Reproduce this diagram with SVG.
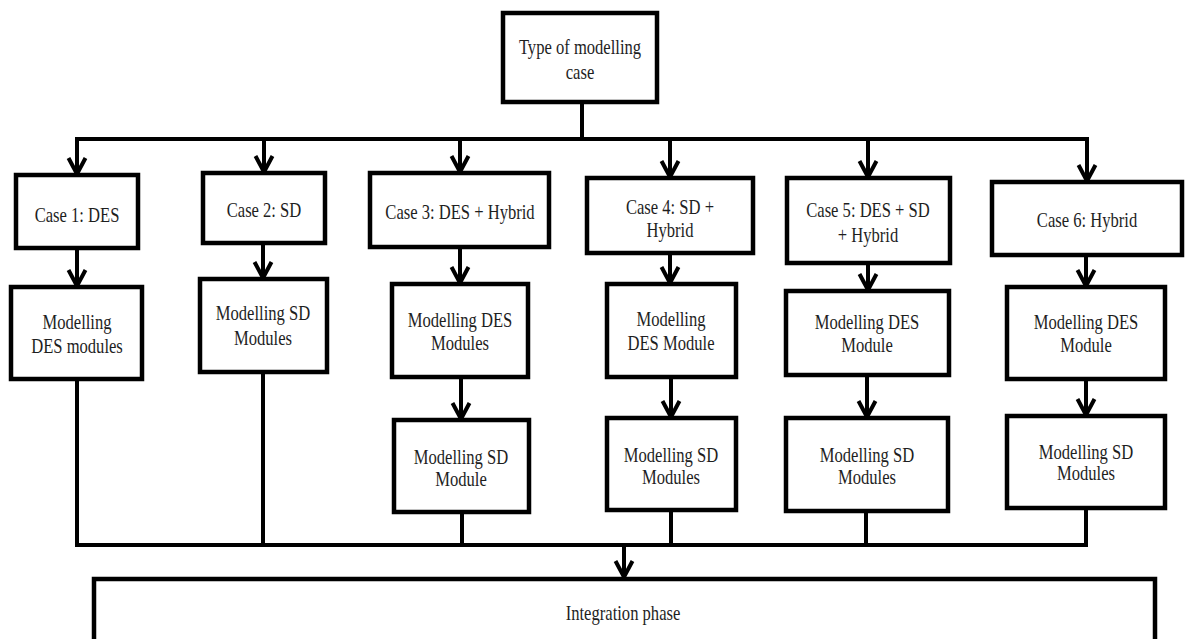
<svg xmlns="http://www.w3.org/2000/svg" width="1187" height="639" viewBox="0 0 1187 639">
<style>
.box{fill:#fff;stroke:#000;stroke-width:4.5}
.ln{fill:none;stroke:#000;stroke-width:4}
.arr{fill:none;stroke:#000;stroke-width:4;marker-end:url(#ah)}
.t{font-family:"Liberation Serif","Times New Roman",serif;font-size:21px;fill:#1e1e1e;text-anchor:middle}
</style>
<defs>
<marker id="ah" markerUnits="userSpaceOnUse" markerWidth="20" markerHeight="20" refX="0" refY="0" orient="auto" overflow="visible">
<path d="M-17,-8.5 L-1,0 L-17,8.5" fill="none" stroke="#000" stroke-width="4"/>
</marker>
</defs>
<rect width="1187" height="639" fill="#fff"/>
<g id="connectors">
<line class="ln" x1="582" y1="102" x2="582" y2="139"/>
<line class="ln" x1="75" y1="139" x2="1089" y2="139"/>
<line class="arr" x1="77" y1="139" x2="77" y2="175"/>
<line class="arr" x1="264" y1="139" x2="264" y2="173"/>
<line class="arr" x1="460" y1="139" x2="460" y2="173"/>
<line class="arr" x1="670" y1="139" x2="670" y2="178"/>
<line class="arr" x1="868" y1="139" x2="868" y2="178"/>
<line class="arr" x1="1087" y1="139" x2="1087" y2="182"/>
<line class="arr" x1="77" y1="248" x2="77" y2="287"/>
<line class="arr" x1="263" y1="243" x2="263" y2="279"/>
<line class="arr" x1="460" y1="247" x2="460" y2="284"/>
<line class="arr" x1="670" y1="253" x2="670" y2="284"/>
<line class="arr" x1="868" y1="263" x2="868" y2="291"/>
<line class="arr" x1="1086" y1="255" x2="1086" y2="287"/>
<line class="arr" x1="461" y1="377" x2="461" y2="420"/>
<line class="arr" x1="671" y1="377" x2="671" y2="418"/>
<line class="arr" x1="867" y1="375" x2="867" y2="418"/>
<line class="arr" x1="1086" y1="379" x2="1086" y2="416"/>
<line class="ln" x1="77" y1="379" x2="77" y2="547"/>
<line class="ln" x1="263" y1="372" x2="263" y2="546"/>
<line class="ln" x1="462" y1="512" x2="462" y2="546"/>
<line class="ln" x1="671" y1="510" x2="671" y2="545"/>
<line class="ln" x1="866" y1="511" x2="866" y2="545"/>
<line class="ln" x1="1086" y1="508" x2="1086" y2="547"/>
<line class="ln" x1="75" y1="545" x2="1088" y2="545"/>
<line class="arr" x1="624" y1="545" x2="624" y2="578"/>
</g>
<g id="n-top"><rect class="box" x="503" y="13" width="154" height="89"/>
<text class="t" transform="translate(580 0) scale(0.79 1)"><tspan x="0" y="54">Type of modelling</tspan><tspan x="0" y="79">case</tspan></text></g>
<g id="n-case1"><rect class="box" x="16" y="175" width="122" height="73"/>
<text class="t" transform="translate(77 0) scale(0.79 1)"><tspan x="0" y="222">Case 1: DES</tspan></text></g>
<g id="n-case2"><rect class="box" x="203" y="173" width="122" height="70"/>
<text class="t" transform="translate(264 0) scale(0.79 1)"><tspan x="0" y="217">Case 2: SD</tspan></text></g>
<g id="n-case3"><rect class="box" x="370" y="173" width="179" height="74"/>
<text class="t" transform="translate(460 0) scale(0.79 1)"><tspan x="0" y="219">Case 3: DES + Hybrid</tspan></text></g>
<g id="n-case4"><rect class="box" x="587" y="178" width="166" height="75"/>
<text class="t" transform="translate(670 0) scale(0.79 1)"><tspan x="0" y="214">Case 4: SD +</tspan><tspan x="0" y="237">Hybrid</tspan></text></g>
<g id="n-case5"><rect class="box" x="787" y="178" width="163" height="85"/>
<text class="t" transform="translate(868 0) scale(0.79 1)"><tspan x="0" y="217">Case 5: DES + SD</tspan><tspan x="0" y="242">+ Hybrid</tspan></text></g>
<g id="n-case6"><rect class="box" x="992" y="182" width="190" height="73"/>
<text class="t" transform="translate(1087 0) scale(0.79 1)"><tspan x="0" y="227">Case 6: Hybrid</tspan></text></g>
<g id="n-m1"><rect class="box" x="11" y="287" width="131" height="92"/>
<text class="t" transform="translate(77 0) scale(0.79 1)"><tspan x="0" y="329">Modelling</tspan><tspan x="0" y="353">DES modules</tspan></text></g>
<g id="n-m2"><rect class="box" x="200" y="279" width="127" height="93"/>
<text class="t" transform="translate(263 0) scale(0.79 1)"><tspan x="0" y="320">Modelling SD</tspan><tspan x="0" y="345">Modules</tspan></text></g>
<g id="n-m3"><rect class="box" x="392" y="284" width="136" height="93"/>
<text class="t" transform="translate(460 0) scale(0.79 1)"><tspan x="0" y="327">Modelling DES</tspan><tspan x="0" y="350">Modules</tspan></text></g>
<g id="n-m3b"><rect class="box" x="394" y="420" width="135" height="92"/>
<text class="t" transform="translate(461 0) scale(0.79 1)"><tspan x="0" y="464">Modelling SD</tspan><tspan x="0" y="486">Module</tspan></text></g>
<g id="n-m4"><rect class="box" x="607" y="284" width="129" height="93"/>
<text class="t" transform="translate(671 0) scale(0.79 1)"><tspan x="0" y="326">Modelling</tspan><tspan x="0" y="350">DES Module</tspan></text></g>
<g id="n-m4b"><rect class="box" x="607" y="418" width="129" height="92"/>
<text class="t" transform="translate(671 0) scale(0.79 1)"><tspan x="0" y="462">Modelling SD</tspan><tspan x="0" y="484">Modules</tspan></text></g>
<g id="n-m5"><rect class="box" x="786" y="291" width="163" height="84"/>
<text class="t" transform="translate(867 0) scale(0.79 1)"><tspan x="0" y="329">Modelling DES</tspan><tspan x="0" y="352">Module</tspan></text></g>
<g id="n-m5b"><rect class="box" x="786" y="418" width="162" height="93"/>
<text class="t" transform="translate(867 0) scale(0.79 1)"><tspan x="0" y="462">Modelling SD</tspan><tspan x="0" y="484">Modules</tspan></text></g>
<g id="n-m6"><rect class="box" x="1007" y="287" width="158" height="92"/>
<text class="t" transform="translate(1086 0) scale(0.79 1)"><tspan x="0" y="329">Modelling DES</tspan><tspan x="0" y="352">Module</tspan></text></g>
<g id="n-m6b"><rect class="box" x="1007" y="416" width="158" height="92"/>
<text class="t" transform="translate(1086 0) scale(0.79 1)"><tspan x="0" y="459">Modelling SD</tspan><tspan x="0" y="480">Modules</tspan></text></g>
<g id="n-integration"><rect class="box" x="94" y="579" width="1061" height="110"/>
<text class="t" transform="translate(623 0) scale(0.79 1)"><tspan x="0" y="620">Integration phase</tspan></text></g>
</svg>
